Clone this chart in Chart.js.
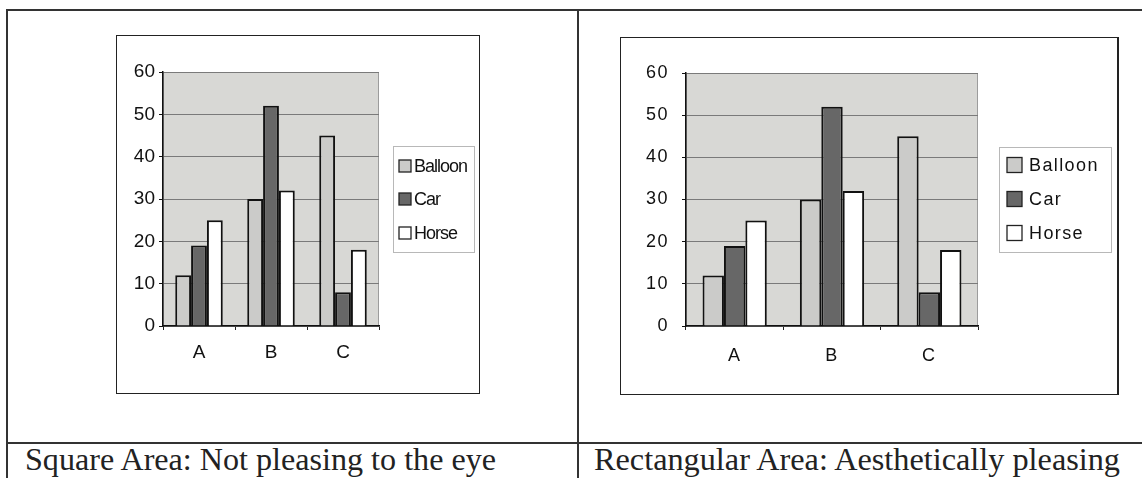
<!DOCTYPE html>
<html>
<head>
<meta charset="utf-8">
<script src="https://cdn.jsdelivr.net/npm/chart.js@4.4.1/dist/chart.umd.min.js"></script>
<style>
  html, body { margin: 0; padding: 0; background: #fff; }
  body { position: relative; width: 1142px; height: 478px; overflow: hidden; }
  .rule { position: absolute; background: #333; }
  .frame { position: absolute; box-sizing: border-box; border: 1.5px solid #222; background: #fff; }
  .frame canvas { position: absolute; left: 0; top: 0; }
  .caption {
    position: absolute; top: 444px; white-space: nowrap;
    font-family: "Liberation Serif", "Times New Roman", Times, serif;
    font-size: 31px; line-height: 31px; color: #222;
    transform-origin: 0 0;
  }
</style>
</head>
<body>
  <!-- table rules -->
  <div class="rule" style="left:6px; top:9px; width:1136px; height:1.5px;"></div>
  <div class="rule" style="left:6px; top:9px; width:1.5px; height:469px;"></div>
  <div class="rule" style="left:577px; top:9px; width:1.5px; height:469px;"></div>
  <div class="rule" style="left:6px; top:442px; width:1136px; height:1.5px;"></div>

  <!-- chart frames -->
  <div class="frame" style="left:116px; top:35px; width:364px; height:359px;">
    <canvas id="squareChart" width="362" height="357" style="left:0;top:0;width:362px;height:357px;"></canvas>
  </div>
  <div class="frame" style="left:620px; top:37px; width:499px; height:358px; border-right-width:2.5px;">
    <canvas id="wideChart" width="496" height="356" style="left:0;top:0;width:496px;height:356px;"></canvas>
  </div>

  <div class="caption" id="cap1" style="left:25px;">Square Area: Not pleasing to the eye</div>
  <div class="caption" id="cap2" style="left:594px;">Rectangular Area: Aesthetically pleasing</div>

<script>
// Categories and series values
const categories = ['A', 'B', 'C'];
const seriesNames = ['Balloon', 'Car', 'Horse'];
const balloonValues = [12, 30, 45];
const carValues = [19, 52, 8];
const horseValues = [25, 32, 18];
const yAxisMax = 60;
const yAxisStep = 10;

const seriesFills = ['#cbcbc9', '#676767', '#ffffff'];
const plotFill = '#d8d8d5';
const fontFamily = '"Liberation Sans", Arial, Helvetica, sans-serif';

// Fill the plot area and outline it, set the tick text spacing
const plotBackground = {
  id: 'plotBackground',
  beforeDraw(chart, args, opts) {
    const { ctx, chartArea: a } = chart;
    ctx.save();
    ctx.fillStyle = plotFill;
    ctx.fillRect(a.left, a.top, a.right - a.left, a.bottom - a.top);
    ctx.strokeStyle = '#9c9c9c';
    ctx.lineWidth = 1;
    ctx.strokeRect(a.left + 0.5, a.top + 0.5, a.right - a.left - 1, a.bottom - a.top);
    ctx.restore();
    ctx.letterSpacing = opts.tickSpacing || '0px';
  }
};

// Boxed legend at a fixed spot to the right of the plot
const boxedLegend = {
  id: 'boxedLegend',
  afterDraw(chart, args, o) {
    const { ctx } = chart;
    ctx.save();
    ctx.letterSpacing = o.letterSpacing;
    ctx.fillStyle = '#ffffff';
    ctx.fillRect(o.x, o.y, o.w, o.h);
    ctx.strokeStyle = '#b8b8b8';
    ctx.lineWidth = 1;
    ctx.strokeRect(o.x + 0.5, o.y + 0.5, o.w, o.h);
    ctx.font = o.font;
    ctx.textBaseline = 'middle';
    ctx.textAlign = 'left';
    chart.data.datasets.forEach((ds, i) => {
      const cy = o.rows[i];
      ctx.fillStyle = ds.backgroundColor;
      ctx.fillRect(o.markerX, cy - o.marker / 2, o.marker, o.marker);
      ctx.strokeStyle = '#222';
      ctx.lineWidth = 1.3;
      ctx.strokeRect(o.markerX, cy - o.marker / 2, o.marker, o.marker);
      ctx.fillStyle = '#111';
      ctx.fillText(ds.label, o.textX, cy + 1);
    });
    ctx.restore();
  }
};

function buildChart(id, p) {
  const values = [balloonValues, carValues, horseValues];
  return new Chart(document.getElementById(id), {
    type: 'bar',
    data: {
      labels: categories,
      datasets: seriesNames.map((name, i) => ({
        label: name,
        data: values[i],
        backgroundColor: seriesFills[i],
        borderColor: '#111',
        borderWidth: 2,
        categoryPercentage: 0.66,
        barPercentage: 1.0
      }))
    },
    options: {
      responsive: false,
      animation: false,
      events: [],
      layout: { padding: { top: p.padTop, right: p.padRight, left: 0, bottom: 0 } },
      plugins: {
        legend: { display: false },
        tooltip: { enabled: false },
        plotBackground: { tickSpacing: p.tickSpacing },
        boxedLegend: p.legend
      },
      scales: {
        x: {
          grid: { display: true, drawOnChartArea: false, offset: true, tickLength: 4, tickColor: '#222', lineWidth: 1 },
          border: { display: true, color: '#111', width: 1.5 },
          ticks: { color: '#111', font: { family: fontFamily, size: p.xFont }, padding: p.xPad, maxRotation: 0 },
          afterFit(scale) { scale.height = p.xHeight; }
        },
        y: {
          min: 0,
          max: yAxisMax,
          grid: { color: '#7a7a7a', lineWidth: 1, tickLength: 4, tickColor: '#111' },
          border: { display: true, color: '#111', width: 1.5 },
          ticks: { stepSize: yAxisStep, color: '#111', font: { family: fontFamily, size: p.yFont }, padding: p.yPad },
          afterFit(scale) { scale.width = p.yWidth; }
        }
      }
    },
    plugins: [plotBackground, boxedLegend]
  });
}

buildChart('squareChart', {
  padTop: 36, padRight: 100, xHeight: 67, yWidth: 46,
  xFont: 19, yFont: 19, xPad: 11, yPad: 4, tickSpacing: '0px',
  legend: {
    x: 276, y: 110, w: 81, h: 106, rows: [130, 163, 197],
    marker: 12, markerX: 282, textX: 297,
    font: '18px ' + fontFamily, letterSpacing: '-1px'
  }
});

buildChart('wideChart', {
  padTop: 35, padRight: 139, xHeight: 68, yWidth: 65,
  xFont: 18, yFont: 18, xPad: 15, yPad: 13, tickSpacing: '1.5px',
  legend: {
    x: 378, y: 109, w: 112, h: 105, rows: [127, 161, 195],
    marker: 15, markerX: 386, textX: 408,
    font: '18px ' + fontFamily, letterSpacing: '1.4px'
  }
});

// Stretch each caption to its cell width
[['cap1', 471], ['cap2', 526]].forEach(([id, w]) => {
  const el = document.getElementById(id);
  const natural = el.getBoundingClientRect().width;
  el.style.transform = 'scaleX(' + (w / natural) + ')';
});
</script>
</body>
</html>
